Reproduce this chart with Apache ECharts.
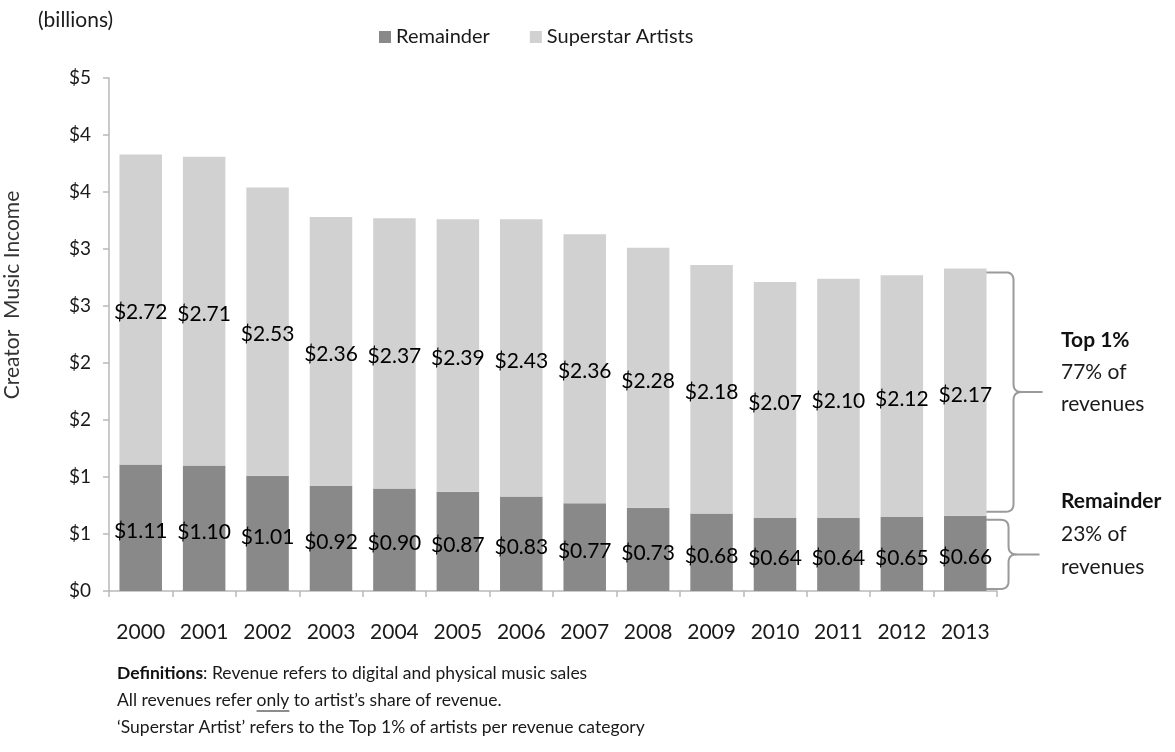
<!DOCTYPE html>
<html>
<head>
<meta charset="utf-8">
<script src="https://cdn.jsdelivr.net/npm/echarts@6/dist/echarts.min.js"></script>
<style>
  html, body { margin: 0; padding: 0; background: #ffffff; }
  #chart { width: 1175px; height: 752px; }
</style>
</head>
<body>
<div id="chart"></div>
<script>
// Creator music income split between superstar artists (top 1%) and the rest, in billions of dollars
const years = ['2000', '2001', '2002', '2003', '2004', '2005', '2006', '2007', '2008', '2009', '2010', '2011', '2012', '2013'];
const remainder = [1.11, 1.10, 1.01, 0.92, 0.90, 0.87, 0.83, 0.77, 0.73, 0.68, 0.64, 0.64, 0.65, 0.66];
const superstar = [2.72, 2.71, 2.53, 2.36, 2.37, 2.39, 2.43, 2.36, 2.28, 2.18, 2.07, 2.10, 2.12, 2.17];
const yTicks = [0, 0.5, 1, 1.5, 2, 2.5, 3, 3.5, 4, 4.5];

const FONT = 'Lato, "Open Sans", "DejaVu Sans", sans-serif';
const DARK = '#898989';
const LIGHT = '#d1d1d1';
const AXIS = '#b9b9b9';
const INK = '#1a1a1a';

const chart = echarts.init(document.getElementById('chart'), null, { renderer: 'canvas' });

const money = v => '$' + Number(v).toFixed(2);

chart.setOption({
  animation: false,
  backgroundColor: '#ffffff',
  textStyle: { fontFamily: FONT },
  grid: { left: 109, top: 78, right: 178, bottom: 161, containLabel: false },
  legend: {
    top: 22, left: 374,
    icon: 'rect', itemWidth: 12, itemHeight: 12, itemGap: 40,
    textStyle: { fontSize: 20, color: INK, fontFamily: FONT },
    data: ['Remainder', 'Superstar Artists']
  },
  xAxis: {
    type: 'category',
    data: years,
    boundaryGap: true,
    axisLine: { lineStyle: { color: AXIS, width: 1.5 } },
    axisTick: { show: true, length: 6, lineStyle: { color: AXIS, width: 1.5 } },
    axisLabel: { fontSize: 21, color: INK, margin: 31, fontFamily: FONT }
  },
  yAxis: {
    type: 'value',
    min: yTicks[0],
    max: yTicks[yTicks.length - 1],
    interval: yTicks[1] - yTicks[0],
    splitLine: { show: false },
    axisLine: { show: true, lineStyle: { color: AXIS, width: 1.5 } },
    axisTick: { show: true, length: 6, lineStyle: { color: AXIS, width: 1.5 } },
    axisLabel: {
      fontSize: 19, color: INK, margin: 18, fontFamily: FONT,
      formatter: v => '$' + Math.round(v)
    }
  },
  series: [
    {
      name: 'Remainder',
      type: 'bar',
      stack: 'income',
      data: remainder,
      barWidth: '67%',
      itemStyle: { color: DARK },
      label: {
        show: true, position: 'inside', offset: [0, 4],
        formatter: p => money(p.value),
        fontSize: 21, color: '#000', fontFamily: FONT
      }
    },
    {
      name: 'Superstar Artists',
      type: 'bar',
      stack: 'income',
      data: superstar,
      barWidth: '67%',
      itemStyle: { color: LIGHT },
      label: {
        show: true, position: 'inside', offset: [0, 3],
        formatter: p => money(p.value),
        fontSize: 21, color: '#000', fontFamily: FONT
      }
    }
  ]
});

// Points on a quadratic curve from p0 to p2 with control point p1
function quad(p0, p1, p2, n) {
  const pts = [];
  for (let i = 1; i <= n; i++) {
    const t = i / n, u = 1 - t;
    pts.push([u * u * p0[0] + 2 * u * t * p1[0] + t * t * p2[0],
              u * u * p0[1] + 2 * u * t * p1[1] + t * t * p2[1]]);
  }
  return pts;
}

// Curly brace from yTop to yBot, opening to the left, pointing right at the middle
function braceHalves(x0, yTop, yBot, xv, xTip, r) {
  const ym = (yTop + yBot) / 2;
  const upper = [[x0, yTop], [xv - r, yTop]]
    .concat(quad([xv - r, yTop], [xv, yTop], [xv, yTop + r], 6))
    .concat([[xv, ym - r]])
    .concat(quad([xv, ym - r], [xv, ym], [xv + r, ym], 6))
    .concat([[xTip, ym]]);
  const lower = [[xv + r, ym]]
    .concat(quad([xv + r, ym], [xv, ym], [xv, ym + r], 6))
    .concat([[xv, yBot - r]])
    .concat(quad([xv, yBot - r], [xv, yBot], [xv - r, yBot], 6))
    .concat([[x0, yBot]]);
  return [upper, lower];
}

function textWidth(str, font) {
  const c = document.createElement('canvas').getContext('2d');
  c.font = font;
  return c.measureText(str).width;
}

const last = years.length - 1;
const xLast = chart.convertToPixel({ xAxisIndex: 0 }, years[last]);
const step = chart.convertToPixel({ xAxisIndex: 0 }, years[1]) - chart.convertToPixel({ xAxisIndex: 0 }, years[0]);
const barRight = xLast + step * 0.67 / 2;
const yTotal = chart.convertToPixel({ yAxisIndex: 0 }, remainder[last] + superstar[last]);
const yRem = chart.convertToPixel({ yAxisIndex: 0 }, remainder[last]);
const yZero = chart.convertToPixel({ yAxisIndex: 0 }, 0);

const braceStyle = { fill: null, stroke: '#9a9a9a', lineWidth: 2 };
const topBrace = braceHalves(barRight - 2, yTotal + 4, yRem - 4, barRight + 27, barRight + 56, 8);
const remBrace = braceHalves(barRight - 2, yRem + 4, yZero - 2, barRight + 22, barRight + 53, 8);
const braceEls = topBrace.concat(remBrace).map(pts => ({
  type: 'polyline', shape: { points: pts }, style: braceStyle
}));

const noteFont = 17.5;
const notePrefix = 'All revenues refer ';
const prefixW = textWidth(notePrefix, noteFont + 'px ' + FONT);
const onlyW = textWidth('only', noteFont + 'px ' + FONT);
const noteLeft = 117;

chart.setOption({
  graphic: braceEls.concat([
    {
      type: 'text', left: 38, top: 10,
      style: { text: '(billions)', fontSize: 21, fill: INK, fontFamily: FONT }
    },
    {
      type: 'text', x: 12, y: 295, rotation: Math.PI / 2,
      style: {
        text: 'Creator  Music Income', fontSize: 21, fill: '#333', fontFamily: FONT,
        align: 'center', verticalAlign: 'middle'
      }
    },
    {
      type: 'text', left: 1061, top: 324,
      style: {
        text: '{b|Top 1%}\n77% of\nrevenues',
        fontSize: 21, lineHeight: 32, fill: INK, fontFamily: FONT,
        rich: { b: { fontWeight: 'bold', fontSize: 21, lineHeight: 32, fill: '#111', fontFamily: FONT } }
      }
    },
    {
      type: 'text', left: 1061, top: 485,
      style: {
        text: '{b|Remainder}\n23% of\nrevenues',
        fontSize: 21, lineHeight: 33, fill: INK, fontFamily: FONT,
        rich: { b: { fontWeight: 'bold', fontSize: 21, lineHeight: 33, fill: '#111', fontFamily: FONT } }
      }
    },
    {
      type: 'text', left: noteLeft, top: 664,
      style: {
        text: '{b|Definitions}: Revenue refers to digital and physical music sales',
        fontSize: noteFont, fill: INK, fontFamily: FONT,
        rich: { b: { fontWeight: 'bold', fontSize: noteFont, fill: '#111', fontFamily: FONT } }
      }
    },
    {
      type: 'text', left: noteLeft, top: 691,
      style: { text: 'All revenues refer only to artist\u2019s share of revenue.', fontSize: noteFont, fill: INK, fontFamily: FONT }
    },
    {
      type: 'line',
      shape: { x1: noteLeft + prefixW, y1: 711, x2: noteLeft + prefixW + onlyW, y2: 711 },
      style: { stroke: INK, lineWidth: 1 }
    },
    {
      type: 'text', left: noteLeft, top: 718,
      style: { text: '\u2018Superstar Artist\u2019 refers to the Top 1% of artists per revenue category', fontSize: noteFont, fill: INK, fontFamily: FONT }
    }
  ])
});
</script>
</body>
</html>
